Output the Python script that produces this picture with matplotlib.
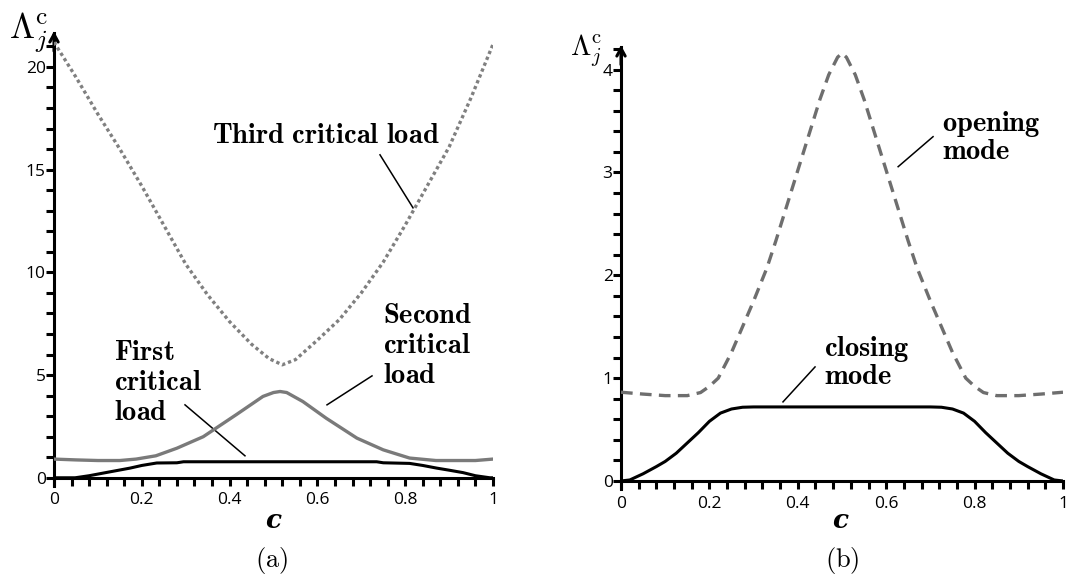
import matplotlib
matplotlib.use("Agg")
import matplotlib.pyplot as plt
import numpy as np

plt.rcParams['mathtext.fontset'] = 'cm'
plt.rcParams['font.family'] = ['Open Sans', 'DejaVu Sans']

# ---------------- data ----------------
# panel (a)
c_third = [0.00, 0.05, 0.10, 0.15, 0.20, 0.25, 0.30, 0.35, 0.40, 0.45, 0.49, 0.52,
           0.55, 0.60, 0.65, 0.70, 0.75, 0.80, 0.85, 0.90, 0.95, 1.00]
third = [21.2, 19.5, 17.7, 16.0, 14.2, 12.3, 10.4, 8.9, 7.6, 6.5, 5.8, 5.5,
         5.75, 6.7, 7.7, 9.0, 10.5, 12.3, 14.2, 16.1, 18.5, 21.1]

c_second = [0.00, 0.05, 0.10, 0.15, 0.187, 0.232, 0.28, 0.34, 0.415, 0.476, 0.50, 0.515,
            0.53, 0.567, 0.62, 0.69, 0.75, 0.81, 0.87, 0.96, 1.00]
second = [0.91, 0.87, 0.84, 0.84, 0.91, 1.07, 1.44, 2.00, 3.07, 3.96, 4.15, 4.20,
          4.15, 3.71, 2.90, 1.93, 1.36, 0.96, 0.84, 0.84, 0.91]

c_first = [0.00, 0.048, 0.08, 0.12, 0.173, 0.20, 0.234, 0.28, 0.295, 0.735, 0.75,
           0.81, 0.84, 0.872, 0.90, 0.932, 0.96, 0.993, 1.00]
first = [0.0, 0.0, 0.10, 0.26, 0.47, 0.60, 0.72, 0.73, 0.78, 0.78, 0.73,
         0.70, 0.60, 0.47, 0.37, 0.25, 0.10, 0.0, 0.0]

# panel (b)
c_open = [0.00, 0.05, 0.10, 0.15, 0.18, 0.20, 0.22, 0.25, 0.28, 0.30, 0.33, 0.35,
          0.40, 0.45, 0.47, 0.49, 0.50, 0.51, 0.53, 0.55, 0.60, 0.65, 0.67, 0.70,
          0.72, 0.75, 0.78, 0.80, 0.82, 0.85, 0.90, 0.95, 1.00]
opening = [0.863, 0.845, 0.830, 0.830, 0.86, 0.92, 1.00, 1.25, 1.55, 1.75, 2.07, 2.33,
           3.02, 3.71, 3.95, 4.12, 4.16, 4.12, 3.95, 3.71, 3.02, 2.33, 2.07, 1.75,
           1.55, 1.25, 1.00, 0.92, 0.86, 0.830, 0.830, 0.845, 0.863]

c_close = [0.00, 0.02, 0.05, 0.08, 0.10, 0.125, 0.15, 0.175, 0.20, 0.225, 0.25, 0.275,
           0.30, 0.70, 0.725, 0.75, 0.775, 0.80, 0.825, 0.85, 0.875, 0.90, 0.92,
           0.95, 0.98, 1.00]
closing = [0.0, 0.01, 0.07, 0.14, 0.19, 0.27, 0.37, 0.47, 0.58, 0.66, 0.70, 0.717,
           0.72, 0.72, 0.717, 0.70, 0.66, 0.58, 0.47, 0.37, 0.27, 0.19, 0.14,
           0.07, 0.01, 0.0]

xticks = [0, 0.2, 0.4, 0.6, 0.8, 1]
xticklabels = ['0', '0.2', '0.4', '0.6', '0.8', '1']
yticks_a = [0, 5, 10, 15, 20]
yticks_b = [0, 1, 2, 3, 4]

# ---------------- figure ----------------
W, H = 1068, 585
fig = plt.figure(figsize=(W / 100, H / 100), dpi=100)


def px_axes(x0, x1, ybot, ytop):
    return fig.add_axes([x0 / W, 1 - ybot / H, (x1 - x0) / W, (ybot - ytop) / H])


def style_axes(ax, ymin, ymax, yticks, yminor):
    ax.set_xlim(0, 1)
    ax.set_ylim(ymin, ymax)
    for s in ('top', 'right'):
        ax.spines[s].set_visible(False)
    ax.spines['bottom'].set_position(('data', 0))
    ax.spines['left'].set_linewidth(2.2)
    ax.spines['bottom'].set_linewidth(2.2)
    ax.set_xticks(xticks)
    ax.set_xticklabels(xticklabels)
    ax.set_xticks(np.arange(0, 1.0001, 0.04), minor=True)
    ax.set_yticks(yticks)
    ax.set_yticklabels([str(t) for t in yticks])
    ax.set_yticks(yminor, minor=True)
    ax.tick_params(which='both', direction='out', length=5.5, width=2.2, color='k')
    ax.tick_params(axis='x', which='major', pad=5, labelsize=12.5)
    ax.tick_params(axis='y', which='major', pad=0.5, labelsize=12.5)
    ax.annotate('', xy=(0, ymax + (ymax - ymin) * 0.004), xytext=(0, ymax - (ymax - ymin) * 0.04),
                xycoords='data', annotation_clip=False,
                arrowprops=dict(arrowstyle='->,head_length=0.55,head_width=0.3',
                                lw=2.2, color='k', shrinkA=0, shrinkB=0))


# ---- panel (a)
axa = px_axes(54, 493, 486, 33)
style_axes(axa, -0.4, 21.65, yticks_a, np.arange(0, 21.5, 1))
axa.plot([0, 0.05], [0, 0], color='#22aa22', lw=1.5, zorder=1)
axa.plot(c_third, third, color='#808080', lw=2.4, linestyle=(0, (1, 0.9)), zorder=3)
axa.plot(c_second, second, color='#7a7a7a', lw=2.4, zorder=3)
axa.plot(c_first, first, color='black', lw=2.2, zorder=4)

bold_kw = dict(fontsize=20.5, color='black', ha='left', va='baseline')
axa.text(0.36, 16.29, r'$\mathbf{Third\ critical\ load}$', **bold_kw)
axa.plot([0.7426, 0.8178], [15.72, 13.14], color='black', lw=1.1)
axa.text(0.749, 7.54, r'$\mathbf{Second}$', **bold_kw)
axa.text(0.749, 6.08, r'$\mathbf{critical}$', **bold_kw)
axa.text(0.749, 4.62, r'$\mathbf{load}$', **bold_kw)
axa.plot([0.7244, 0.6219], [4.96, 3.55], color='black', lw=1.1)
axa.text(0.1367, 5.74, r'$\mathbf{First}$', **bold_kw)
axa.text(0.1367, 4.28, r'$\mathbf{critical}$', **bold_kw)
axa.text(0.1367, 2.82, r'$\mathbf{load}$', **bold_kw)
axa.plot([0.2984, 0.435], [3.55, 1.07], color='black', lw=1.1)

# ---- panel (b)
axb = px_axes(621, 1063, 489, 47)
style_axes(axb, -0.078, 4.22, yticks_b, np.arange(0, 4.21, 0.2))
axb.plot(c_open, opening, color='#6e6e6e', lw=2.4, linestyle=(0, (3.5, 2.2)), zorder=3)
axb.plot(c_close, closing, color='black', lw=2.2, zorder=4)
axb.text(0.7256, 3.406, r'$\mathbf{opening}$', **bold_kw)
axb.text(0.7256, 3.13, r'$\mathbf{mode}$', **bold_kw)
axb.plot([0.706, 0.627], [3.348, 3.056], color='black', lw=1.1)
axb.text(0.459, 1.217, r'$\mathbf{closing}$', **bold_kw)
axb.text(0.459, 0.941, r'$\mathbf{mode}$', **bold_kw)
axb.plot([0.439, 0.3665], [1.109, 0.769], color='black', lw=1.1)

# axis labels and captions
for xc in (273 / W, 840 / W):
    fig.text(xc, 1 - 521 / H, 'c', fontsize=19, fontweight='bold', style='italic',
             family='DejaVu Serif', ha='center', va='center')
fig.text(9 / W, 1 - 39 / H, r'$\Lambda_j^{\rm c}$', fontsize=26, ha='left', va='baseline')
fig.text(570 / W, 1 - 56 / H, r'$\Lambda_j^{\rm c}$', fontsize=21, ha='left', va='baseline')
fig.text(272 / W, 1 - 560 / H, r'$\mathrm{(a)}$', fontsize=19, ha='center', va='center')
fig.text(842 / W, 1 - 560 / H, r'$\mathrm{(b)}$', fontsize=19, ha='center', va='center')

fig.savefig('out.png', dpi=100)
